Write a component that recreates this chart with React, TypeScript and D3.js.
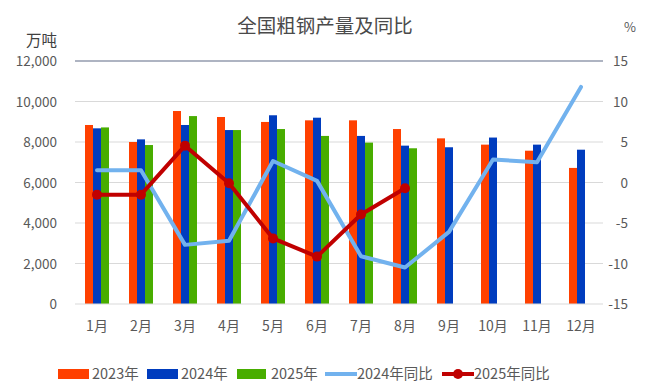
import React from "react";
import * as d3 from "d3";

const months = ["1月","2月","3月","4月","5月","6月","7月","8月","9月","10月","11月","12月"];
const prod2023 = [8840, 8000, 9530, 9235, 8990, 9070, 9070, 8640, 8180, 7870, 7570, 6720];
const prod2024 = [8675, 8130, 8840, 8590, 9320, 9200, 8300, 7820, 7740, 8220, 7870, 7620];
const prod2025 = [8720, 7850, 9280, 8590, 8640, 8300, 7970, 7690];
const yoy2024 = [1.5, 1.5, -7.7, -7.2, 2.65, 0.2, -9.1, -10.5, -6.1, 2.85, 2.5, 11.8];
const yoy2025 = [-1.5, -1.5, 4.55, -0.1, -6.9, -9.15, -3.95, -0.7];
const leftTicks = [0, 2000, 4000, 6000, 8000, 10000, 12000];
const rightTicks = [-15, -10, -5, 0, 5, 10, 15];

const C23 = "#ff4000";
const C24 = "#003cbe";
const C25 = "#48ad00";
const CL24 = "#72b2ee";
const CL25 = "#c00000";
const TXT = "#595959";
const FONT = "'Noto Sans CJK SC', 'Noto Sans', sans-serif";

export default function App() {
  const W = 650, H = 390;
  const x0 = 75, x1 = 603, yTop = 61, yBot = 304;
  const x = d3.scaleBand<string>().domain(months).range([x0, x1]);
  const yL = d3.scaleLinear().domain([0, 12000]).range([yBot, yTop]);
  const yR = d3.scaleLinear().domain([-15, 15]).range([yBot, yTop]);
  const bw = 8;
  const cx = (i: number) => (x(months[i]) as number) + x.bandwidth() / 2;
  const line = d3.line<number>().x((_, i) => cx(i)).y((d) => yR(d));
  const series = [
    { data: prod2023, color: C23, off: -12 },
    { data: prod2024, color: C24, off: -4 },
    { data: prod2025, color: C25, off: 4 },
  ];
  return (
    <svg width={W} height={H} style={{ position: "absolute", left: 0, top: 0, fontFamily: FONT }}>
      <rect width={W} height={H} fill="#fff" />
      <text x={325} y={33} textAnchor="middle" fontSize={19.5} fill="#4a4a4a">全国粗钢产量及同比</text>
      <text x={57} y={46} textAnchor="end" fontSize={15.5} fill="#404040">万吨</text>
      <text x={630} y={32} textAnchor="middle" fontSize={13} fill={TXT}>%</text>
      {leftTicks.map((t) => (
        <g key={"l" + t}>
          {t !== 0 && t !== 12000 && (
            <line x1={x0} x2={x1} y1={yL(t)} y2={yL(t)} stroke="#d9d9d9" strokeWidth={1} />
          )}
          <text x={57} y={yL(t) + 5} textAnchor="end" fontSize={13.5} fill={TXT}>{d3.format(",")(t)}</text>
        </g>
      ))}
      <line x1={x0} x2={x1} y1={yTop} y2={yTop} stroke="#aeb4c2" strokeWidth={2} />
      {rightTicks.map((t) => (
        <text key={"r" + t} x={628} y={yR(t) + 5} textAnchor="end" fontSize={13.5} fill={TXT}>{t}</text>
      ))}
      {series.map((s, si) =>
        s.data.map((v, i) => (
          <rect key={si + "-" + i} x={cx(i) + s.off} y={yL(v)} width={bw} height={yBot - yL(v)} fill={s.color} />
        ))
      )}
      <line x1={x0} x2={x1} y1={yBot} y2={yBot} stroke="#d9d9d9" strokeWidth={1} />
      <path d={line(yoy2024) || ""} fill="none" stroke={CL24} strokeWidth={4} strokeLinejoin="round" strokeLinecap="round" />
      <path d={line(yoy2025) || ""} fill="none" stroke={CL25} strokeWidth={4} strokeLinejoin="round" />
      {yoy2025.map((v, i) => (
        <circle key={"m" + i} cx={cx(i)} cy={yR(v)} r={5} fill={CL25} />
      ))}
      {months.map((m, i) => (
        <text key={m} x={cx(i)} y={331} textAnchor="middle" fontSize={14} fill={TXT}>{m}</text>
      ))}
      <g fontSize={14.5} fill={TXT}>
        <rect x={58} y={369} width={31} height={10} fill={C23} />
        <text x={92} y={379}>2023年</text>
        <rect x={147} y={369} width={31} height={10} fill={C24} />
        <text x={181} y={379}>2024年</text>
        <rect x={237} y={369} width={29} height={10} fill={C25} />
        <text x={271} y={379}>2025年</text>
        <line x1={325} x2={357} y1={374} y2={374} stroke={CL24} strokeWidth={4} />
        <text x={357} y={379}>2024年同比</text>
        <line x1={442} x2={474} y1={374} y2={374} stroke={CL25} strokeWidth={4} />
        <circle cx={458} cy={374} r={5} fill={CL25} />
        <text x={474} y={379}>2025年同比</text>
      </g>
    </svg>
  );
}
